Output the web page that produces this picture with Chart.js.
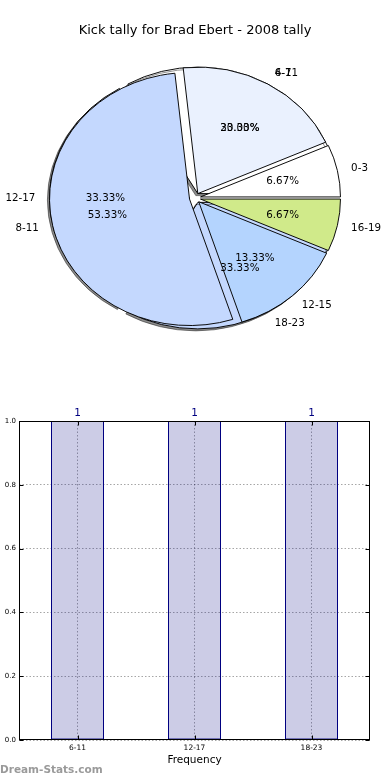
<!DOCTYPE html>
<html><head><meta charset="utf-8">
<script src="https://cdn.jsdelivr.net/npm/chart.js@4/dist/chart.umd.min.js"></script>
<style>
html,body{margin:0;padding:0;background:#fff;}
#wrap{position:relative;width:390px;height:780px;overflow:hidden;font-family:'DejaVu Sans',sans-serif;}
canvas{position:absolute;left:0;}
#title{position:absolute;left:0;width:390px;top:21px;text-align:center;font-size:13px;line-height:18px;color:#000;}
#wm{position:absolute;left:0;top:762px;font-size:10.5px;line-height:14px;font-weight:bold;color:#9a9a9a;}
</style></head><body>
<div id="wrap">
<canvas id="pieB" width="390" height="396" style="top:0"></canvas>
<canvas id="pieA" width="390" height="396" style="top:0"></canvas>
<canvas id="bar" width="390" height="390" style="top:390px"></canvas>
<div id="title">Kick tally for Brad Ebert - 2008 tally</div>
<div id="wm">Dream-Stats.com</div>
</div>
<script>
// ---- data ----
const pieALabels = ['0-3', '4-7', '8-11', '12-15', '16-19'];
const pieAValues = [1, 3, 8, 2, 1];
const pieBLabels = ['6-11', '12-17', '18-23'];
const pieBValues = [1, 1, 1];
const barLabels = ['6-11', '12-17', '18-23'];
const barValues = [1, 1, 1];
const yTicks = [0.0, 0.2, 0.4, 0.6, 0.8, 1.0];

// ---- styles ----
const pieAColors = ['#ffffff', '#eaf1fe', '#c4d8fe', '#b4d4fe', '#d0ea8a'];
const pieBColors = ['#ffffff', '#eaf1fe', '#c4d8fe'];
const R = 140, K = 126.5 / 140;
const EXP_A = 0.04, EXP_B = 0.04;

Chart.defaults.font.family = "'DejaVu Sans', sans-serif";
Chart.defaults.color = '#000';

function ellipsePlugin(expl, shadow) {
  return {
    id: 'ellipse',
    beforeDatasetsDraw(chart) {
      const ctx = chart.ctx, meta = chart.getDatasetMeta(0);
      const cx = meta.data[0].x, cy = meta.data[0].y;
      meta.data.forEach(arc => {
        if (!arc.__wrapped) {
          const orig = arc.draw;
          arc.draw = function (c, area) {
            const h = (this.startAngle + this.endAngle) / 2, o = expl * this.outerRadius;
            c.save(); c.translate(Math.cos(h) * o, Math.sin(h) * o);
            orig.call(this, c, area); c.restore();
          };
          arc.__wrapped = true;
        }
      });
      ctx.save();
      ctx.translate(cx, cy); ctx.scale(1, K); ctx.translate(-cx, -cy);
      if (shadow) {
        ctx.shadowColor = 'rgba(0,0,0,0.45)';
        ctx.shadowOffsetX = -2; ctx.shadowOffsetY = 2; ctx.shadowBlur = 0.5;
      }
    },
    afterDatasetsDraw(chart) { chart.ctx.restore(); }
  };
}

function pieConfig(labels, values, colors, expl, shadow, extraPlugins) {
  return {
    type: 'pie',
    data: {
      labels: [...labels].reverse(),
      datasets: [{
        data: [...values].reverse(),
        backgroundColor: [...colors].reverse(),
        borderColor: '#000', borderWidth: 1, borderJoinStyle: 'miter',
        radius: R, rotation: 90
      }]
    },
    options: {
      responsive: false, animation: false, events: [], rotation: 90,
      layout: { padding: 0 },
      plugins: { legend: { display: false }, tooltip: { enabled: false }, title: { display: false } }
    },
    plugins: [ellipsePlugin(expl, shadow)].concat(extraPlugins || [])
  };
}

function drawPieLabels(ctx, chart, expl) {
  const meta = chart.getDatasetMeta(0);
  const labels = chart.data.labels, vals = chart.data.datasets[0].data;
  const total = vals.reduce((a, b) => a + b, 0);
  ctx.save();
  ctx.fillStyle = '#000';
  ctx.font = "10.3px 'DejaVu Sans'";
  ctx.textBaseline = 'middle';
  meta.data.forEach((arc, i) => {
    const h = (arc.startAngle + arc.endAngle) / 2, r = arc.outerRadius;
    const c = Math.cos(h), s = Math.sin(h);
    const lx = arc.x + (1.1 + expl) * r * c, ly = arc.y + (1.1 + expl) * r * s * K;
    ctx.textAlign = c > 0 ? 'left' : 'right';
    ctx.fillText(labels[i], lx, ly);
    const px = arc.x + (0.6 + expl) * r * c, py = arc.y + (0.6 + expl) * r * s * K;
    ctx.textAlign = 'center';
    ctx.fillText((vals[i] / total * 100).toFixed(2) + '%', px, py);
  });
  ctx.restore();
}

const chartB = new Chart(document.getElementById('pieB'),
  pieConfig(pieBLabels, pieBValues, pieBColors, EXP_B, true));

const chartA = new Chart(document.getElementById('pieA'),
  pieConfig(pieALabels, pieAValues, pieAColors, EXP_A, false, [{
    id: 'labels',
    afterDraw(chart) {
      drawPieLabels(chart.ctx, chartB, EXP_B);
      drawPieLabels(chart.ctx, chart, EXP_A);
    }
  }]));

// ---- bar chart ----
const framePlugin = {
  id: 'frame',
  afterDraw(chart) {
    const ctx = chart.ctx, a = chart.chartArea;
    const ys = chart.scales.y, xs = chart.scales.x;
    ctx.save();
    ctx.strokeStyle = '#000'; ctx.lineWidth = 1;
    const L = Math.round(a.left) + 0.5, Rr = Math.round(a.right) - 0.5;
    const T = Math.round(a.top) + 0.5, B = Math.round(a.bottom) - 0.5;
    ctx.beginPath();
    ys.ticks.forEach(t => {
      const y = Math.round(ys.getPixelForValue(t.value)) + 0.5;
      ctx.moveTo(L, y); ctx.lineTo(L + 4, y);
      ctx.moveTo(Rr - 4, y); ctx.lineTo(Rr, y);
    });
    xs.ticks.forEach((t, i) => {
      const x = Math.round(xs.getPixelForTick(i)) + 0.5;
      ctx.moveTo(x, B); ctx.lineTo(x, B - 4);
      ctx.moveTo(x, T); ctx.lineTo(x, T + 4);
    });
    ctx.stroke();
    ctx.strokeRect(L, T, Rr - L, B - T);
    // value labels
    const meta = chart.getDatasetMeta(0);
    ctx.fillStyle = '#000080';
    ctx.font = "10.5px 'DejaVu Sans'";
    ctx.textAlign = 'center'; ctx.textBaseline = 'alphabetic';
    meta.data.forEach((bar, i) => {
      ctx.fillText(String(chart.data.datasets[0].data[i]), bar.x, bar.y - 5);
    });
    ctx.restore();
  }
};

new Chart(document.getElementById('bar'), {
  type: 'bar',
  data: {
    labels: barLabels,
    datasets: [{
      data: barValues,
      backgroundColor: 'rgba(0,0,128,0.2)',
      borderColor: '#000080', borderWidth: 1, borderSkipped: false,
      barPercentage: 53 / 117, categoryPercentage: 1
    }]
  },
  options: {
    responsive: false, animation: false, events: [],
    layout: { padding: { top: 31, right: 20, bottom: 10, left: 0 } },
    plugins: { legend: { display: false }, tooltip: { enabled: false } },
    scales: {
      x: {
        offset: true,
        grid: { offset: false, color: 'rgba(0,0,0,0.35)', drawTicks: false },
        border: { display: false, dash: [1.5, 2] },
        ticks: { font: { size: 7.5 }, color: '#000', padding: 4 },
        title: { display: true, text: 'Frequency', font: { size: 10.5 }, color: '#000', padding: { top: 0, bottom: 3 } },
        afterFit(s) { s.height = 30; }
      },
      y: {
        min: 0, max: 1,
        afterBuildTicks(s) { s.ticks = yTicks.map(v => ({ value: v })); },
        ticks: { callback: v => Number(v).toFixed(1), font: { size: 7 }, color: '#000', padding: 3 },
        grid: { color: 'rgba(0,0,0,0.35)', drawTicks: false },
        border: { display: false, dash: [1.5, 2] },
        afterFit(s) { s.width = 19; }
      }
    }
  },
  plugins: [framePlugin]
});
</script>
</body></html>
